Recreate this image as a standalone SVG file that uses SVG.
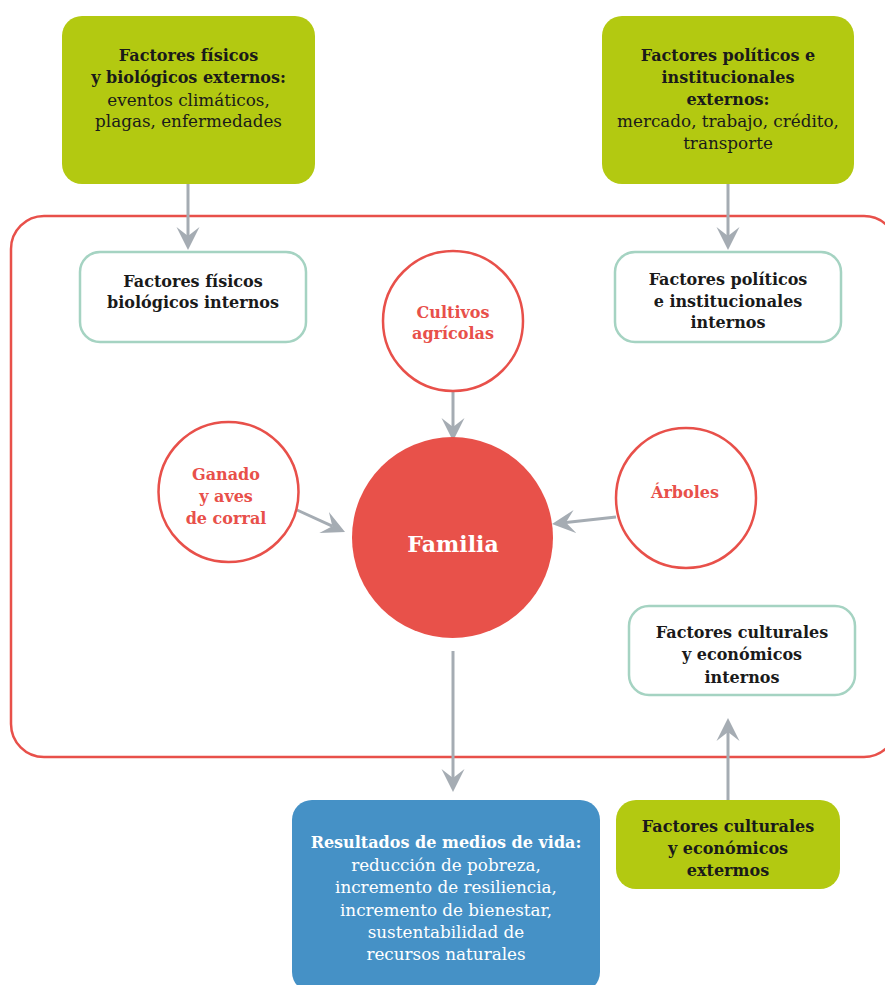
<svg xmlns="http://www.w3.org/2000/svg" width="885" height="985" viewBox="0 0 885 985">
  <style>
    .t { font-family: "DejaVu Serif", "Liberation Serif", serif; text-anchor: middle; }
    .b { font-weight: bold; font-size: 16px; fill: #1a1a1a; }
    .r { font-weight: normal; font-size: 16.8px; fill: #1a1a1a; }
    .w { fill: #ffffff; }
    .red { font-weight: bold; font-size: 16px; fill: #e8504a; }
    .green { fill: #b3c911; }
    .inner { fill: #ffffff; stroke: #a5d3c2; stroke-width: 2.5; }
    .ring { fill: #ffffff; stroke: #e8504a; stroke-width: 2.5; }
    .conn { stroke: #a5acb3; stroke-width: 3; fill: none; marker-end: url(#arr); }
  </style>
  <defs>
    <marker id="arr" markerUnits="userSpaceOnUse" markerWidth="24" markerHeight="24" viewBox="0 -12 24 24" refX="9" refY="0" orient="auto">
      <path d="M23,0 L0,-11.5 L9,0 L0,11.5 Z" fill="#a5acb3"/>
    </marker>
  </defs>

  <rect id="container" x="11" y="216" width="886" height="541" rx="33" fill="none" stroke="#e8504a" stroke-width="2.5"/>

  <g id="connectors">
    <line class="conn" x1="188" y1="184" x2="188" y2="236"/>
    <line class="conn" x1="728" y1="184" x2="728" y2="236"/>
    <line class="conn" x1="453" y1="391" x2="453" y2="427"/>
    <line class="conn" x1="297" y1="510" x2="332.3" y2="526.2"/>
    <line class="conn" x1="616" y1="517" x2="565.9" y2="522.5"/>
    <line class="conn" x1="453" y1="651" x2="453" y2="778"/>
    <line class="conn" x1="728" y1="815" x2="728" y2="732"/>
  </g>

  <g id="ext-fisicos">
    <rect class="green" x="62" y="16" width="253" height="168" rx="20"/>
    <text class="t b" x="188.5" y="61">Factores físicos</text>
    <text class="t b" x="188.5" y="83">y biológicos externos:</text>
    <text class="t r" x="188.5" y="106">eventos climáticos,</text>
    <text class="t r" x="188.5" y="127">plagas, enfermedades</text>
  </g>

  <g id="ext-politicos">
    <rect class="green" x="602" y="16" width="252" height="168" rx="20"/>
    <text class="t b" x="728" y="61">Factores políticos e</text>
    <text class="t b" x="728" y="83">institucionales</text>
    <text class="t b" x="728" y="105">externos:</text>
    <text class="t r" x="728" y="127">mercado, trabajo, crédito,</text>
    <text class="t r" x="728" y="149">transporte</text>
  </g>

  <g id="int-fisicos">
    <rect class="inner" x="80" y="252" width="226" height="90" rx="20"/>
    <text class="t b" x="193" y="287">Factores físicos</text>
    <text class="t b" x="193" y="308">biológicos internos</text>
  </g>

  <g id="int-politicos">
    <rect class="inner" x="615" y="252" width="226" height="90" rx="20"/>
    <text class="t b" x="728" y="285">Factores políticos</text>
    <text class="t b" x="728" y="307">e institucionales</text>
    <text class="t b" x="728" y="328">internos</text>
  </g>

  <g id="cultivos">
    <circle class="ring" cx="453" cy="321" r="70"/>
    <text class="t red" x="453" y="318">Cultivos</text>
    <text class="t red" x="453" y="339">agrícolas</text>
  </g>

  <g id="ganado">
    <circle class="ring" cx="228.5" cy="492" r="70"/>
    <text class="t red" x="226" y="480">Ganado</text>
    <text class="t red" x="226" y="502">y aves</text>
    <text class="t red" x="226" y="524">de corral</text>
  </g>

  <g id="arboles">
    <circle class="ring" cx="686" cy="498" r="70"/>
    <text class="t red" x="685" y="498">Árboles</text>
  </g>

  <g id="familia">
    <circle cx="452.5" cy="537.5" r="100.5" fill="#e8514a"/>
    <text class="t w" x="453" y="552" font-weight="bold" font-size="22">Familia</text>
  </g>

  <g id="int-culturales">
    <rect class="inner" x="629" y="606" width="226" height="89" rx="20"/>
    <text class="t b" x="742" y="638">Factores culturales</text>
    <text class="t b" x="742" y="660">y económicos</text>
    <text class="t b" x="742" y="683">internos</text>
  </g>

  <g id="resultados">
    <rect x="292" y="800" width="308" height="192" rx="20" fill="#4591c6"/>
    <text class="t b w" x="446" y="848">Resultados de medios de vida:</text>
    <text class="t r w" x="446" y="871">reducción de pobreza,</text>
    <text class="t r w" x="446" y="893">incremento de resiliencia,</text>
    <text class="t r w" x="446" y="916">incremento de bienestar,</text>
    <text class="t r w" x="446" y="938">sustentabilidad de</text>
    <text class="t r w" x="446" y="960">recursos naturales</text>
  </g>

  <g id="ext-culturales">
    <rect class="green" x="616" y="800" width="224" height="89" rx="20"/>
    <text class="t b" x="728" y="832">Factores culturales</text>
    <text class="t b" x="728" y="854">y económicos</text>
    <text class="t b" x="728" y="876">extermos</text>
  </g>
</svg>
